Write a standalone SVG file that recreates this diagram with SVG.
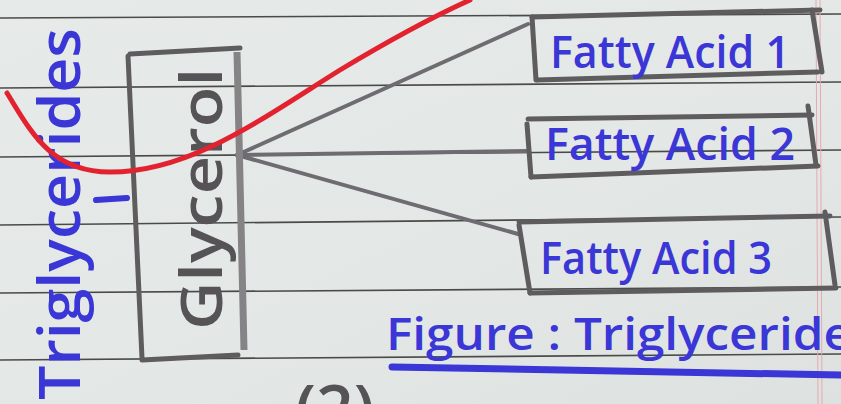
<svg xmlns="http://www.w3.org/2000/svg" width="841" height="404" viewBox="0 0 841 404">
<defs>
<linearGradient id="paper" x1="0" y1="0" x2="1" y2="1">
<stop offset="0" stop-color="#e6ebea"/>
<stop offset="0.6" stop-color="#e3e8e7"/>
<stop offset="1" stop-color="#dde2e1"/>
</linearGradient>
</defs>
<style>
.rule{stroke:#4a4a48;stroke-width:1.6;fill:none}
.margin{stroke:#e7a9ad;stroke-width:1;fill:none}
.box{stroke:#5e5c5e;stroke-width:5;fill:none;stroke-linecap:round}
.conn{stroke:#6e6c70;stroke-width:4;fill:none;stroke-linecap:round}
.ink{fill:#3b36d6;font-family:"Open Sans","Liberation Sans",sans-serif;font-weight:600}
.grey{fill:#555356;font-family:"Open Sans","Liberation Sans",sans-serif;font-weight:600}
.blue{stroke:#3b36d6;fill:none;stroke-linecap:round}
</style>
<rect width="841" height="404" fill="url(#paper)"/>
<g id="rules">
<path class="rule" d="M0 18 L841 14"/>
<path class="rule" d="M0 88 L841 82"/>
<path class="rule" d="M0 157 L841 150"/>
<path class="rule" d="M0 225 L841 217"/>
<path class="rule" d="M0 293 L841 287"/>
<path class="rule" d="M0 360 L841 354"/>
<path class="margin" d="M816 0 L818 404"/>
<path class="margin" d="M820 0 L822 404"/>
</g>
<g id="connectors">
<path class="conn" d="M237 155 L528 24"/>
<path class="conn" d="M237 155 L528 151"/>
<path class="conn" d="M237 155 L518 234"/>
</g>
<g id="glycerol">
<path class="box" d="M130 54 L240 48"/>
<path class="box" d="M128 56 L142 358"/>
<path class="box" d="M142 360 L238 355"/>
<path d="M237 52 L244 350" stroke="#858386" stroke-width="7" fill="none"/>
<text class="grey" transform="translate(222,330) rotate(-90)" font-size="58" textLength="262" lengthAdjust="spacingAndGlyphs">Glycerol</text>
</g>
<g id="triglycerides">
<text class="ink" transform="translate(80,400) rotate(-90)" font-size="58" textLength="372" lengthAdjust="spacingAndGlyphs">Triglycerides</text>
<path class="blue" stroke-width="6" d="M96 200 L127 198"/>
</g>
<g id="fa1">
<path class="box" d="M532 17 L820 10"/>
<path class="box" d="M532 17 L536 80"/>
<path class="box" d="M537 80 L818 72"/>
<path class="box" d="M812 10 L822 72"/>
<text class="ink" x="550" y="68" font-size="46" textLength="240" lengthAdjust="spacingAndGlyphs">Fatty Acid 1</text>
</g>
<g id="fa2">
<path class="box" d="M528 119 L812 115"/>
<path class="box" d="M527 124 L531 177"/>
<path class="box" d="M531 177 L818 166"/>
<path class="box" d="M808 106 L816 165"/>
<text class="ink" x="545" y="160" font-size="46" textLength="250" lengthAdjust="spacingAndGlyphs">Fatty Acid 2</text>
</g>
<g id="fa3">
<path class="box" d="M519 222 L830 216"/>
<path class="box" d="M519 225 L530 293"/>
<path class="box" d="M530 293 L836 288"/>
<path class="box" d="M825 212 L835 285"/>
<text class="ink" x="540" y="274" font-size="46" textLength="232" lengthAdjust="spacingAndGlyphs">Fatty Acid 3</text>
</g>
<g id="caption">
<text class="ink" x="386" y="350" font-size="46" textLength="490" lengthAdjust="spacingAndGlyphs">Figure : Triglycerides</text>
<path class="blue" stroke-width="7" d="M392 367 L841 375"/>
</g>
<g id="number">
<text class="grey" x="295" y="432" font-size="66" fill="#6a676c">(2)</text>
</g>
<path d="M7 93 C30 130 50 172 110 172 C190 172 260 120 340 70 C390 40 430 18 470 0" stroke="#e2232f" stroke-width="5" fill="none" stroke-linecap="round"/>
</svg>
